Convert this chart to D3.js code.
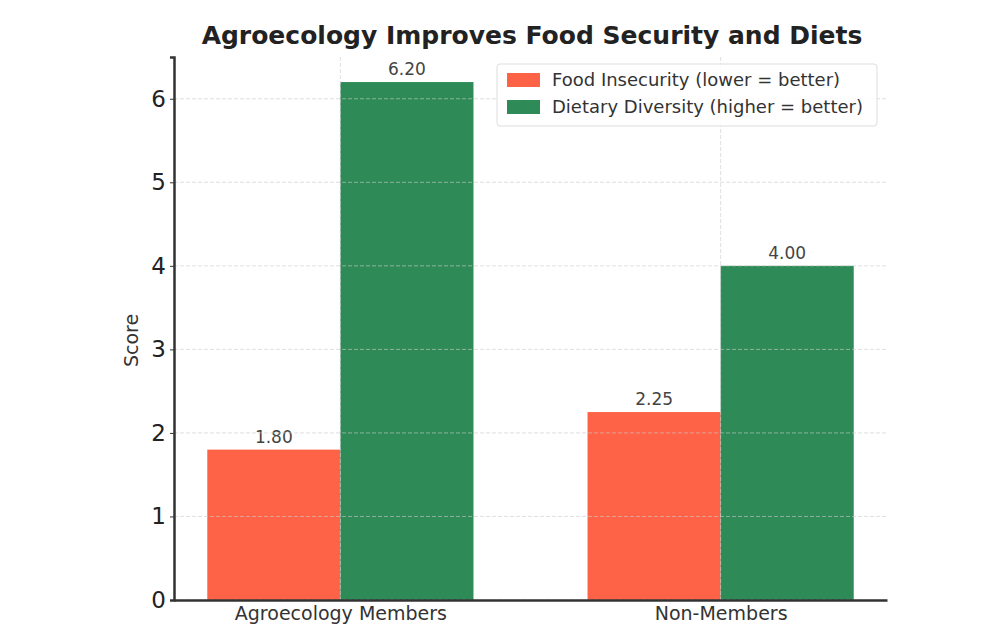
<!DOCTYPE html>
<html>
<head>
<meta charset="utf-8">
<script src="https://cdn.jsdelivr.net/npm/d3@7"></script>
<style>
  body { margin: 0; background: #fff; }
  text { font-family: "DejaVu Sans", sans-serif; }
</style>
</head>
<body>
<div id="chart"></div>
<script>
// data
var groups = ["Agroecology Members", "Non-Members"];
var seriesNames = ["Food Insecurity (lower = better)", "Dietary Diversity (higher = better)"];
var foodInsecurity = [1.80, 2.25];
var dietaryDiversity = [6.20, 4.00];
var yTicks = [0, 1, 2, 3, 4, 5, 6];
var colors = ["#ff6347", "#2e8b57"];

// set the dimensions and margins of the graph
var W = 1000, H = 637;
var margin = { top: 57, right: 113, bottom: 37, left: 174 },
    width = W - margin.left - margin.right,
    height = H - margin.top - margin.bottom;

var svg = d3.select("#chart")
    .append("svg")
    .attr("width", W)
    .attr("height", H);

var g = svg.append("g")
    .attr("transform", "translate(" + margin.left + "," + margin.top + ")");

// x is a linear scale over category index, like matplotlib
var x = d3.scaleLinear()
    .domain([-0.4375, 1.4375])
    .range([0, width]);
var barW = 0.35;

var y = d3.scaleLinear()
    .domain([0, 6.5])
    .range([height, 0]);

var rows = groups.map(function(d, i) {
    return { group: d, i: i, vals: [foodInsecurity[i], dietaryDiversity[i]] };
});

// bars
rows.forEach(function(r) {
    r.vals.forEach(function(v, s) {
        var x0 = r.i + (s === 0 ? -barW : 0);
        g.append("rect")
            .attr("x", x(x0))
            .attr("y", y(v))
            .attr("width", x(x0 + barW) - x(x0))
            .attr("height", height - y(v))
            .attr("fill", colors[s]);
        g.append("text")
            .attr("x", x(x0 + barW / 2))
            .attr("y", y(v) - 7)
            .attr("text-anchor", "middle")
            .style("font-size", "17px")
            .style("fill", "#444")
            .text(v.toFixed(2));
    });
});

// grid (drawn on top, faint)
g.append("g")
    .selectAll("line")
    .data(yTicks)
    .enter()
    .append("line")
    .attr("x1", 0)
    .attr("x2", width)
    .attr("y1", function(d) { return y(d); })
    .attr("y2", function(d) { return y(d); })
    .attr("stroke", "#ccc")
    .attr("stroke-opacity", 0.6)
    .attr("stroke-dasharray", "4,2");
g.append("g")
    .selectAll("line")
    .data(rows)
    .enter()
    .append("line")
    .attr("x1", function(d) { return x(d.i); })
    .attr("x2", function(d) { return x(d.i); })
    .attr("y1", 0)
    .attr("y2", height)
    .attr("stroke", "#ccc")
    .attr("stroke-opacity", 0.6)
    .attr("stroke-dasharray", "4,2");

// Y axis
var yAxis = g.append("g")
    .call(d3.axisLeft(y).tickValues(yTicks).tickFormat(d3.format("d")).tickSize(4).tickPadding(4));
yAxis.select(".domain").attr("stroke", "#333").attr("stroke-width", 2.5);
yAxis.selectAll(".tick line").attr("stroke", "#333");
yAxis.selectAll("text").style("font-size", "23px").style("fill", "#222").attr("font-family", "DejaVu Sans");

// X axis
var xAxis = g.append("g")
    .attr("transform", "translate(0," + height + ")")
    .call(d3.axisBottom(x).tickValues([0, 1]).tickFormat(function(d) { return groups[d]; }).tickSize(0).tickPadding(7));
xAxis.select(".domain").attr("stroke", "#333").attr("stroke-width", 2.5);
xAxis.selectAll("text").style("font-size", "19px").style("fill", "#333").attr("font-family", "DejaVu Sans");

// Y label
svg.append("text")
    .attr("transform", "translate(138," + (margin.top + height / 2 + 12) + ") rotate(-90)")
    .attr("text-anchor", "middle")
    .style("font-size", "19px")
    .style("fill", "#333")
    .text("Score");

// title
svg.append("text")
    .attr("x", 532)
    .attr("y", 44)
    .attr("text-anchor", "middle")
    .style("font-size", "25px")
    .style("font-weight", "bold")
    .style("fill", "#222")
    .text("Agroecology Improves Food Security and Diets");

// legend
var lg = svg.append("g").attr("transform", "translate(497,64)");
lg.append("rect")
    .attr("width", 380)
    .attr("height", 62)
    .attr("fill", "#fff")
    .attr("fill-opacity", 0.85)
    .attr("stroke", "#ddd")
    .attr("rx", 3);
seriesNames.forEach(function(n, i) {
    lg.append("rect")
        .attr("x", 10)
        .attr("y", 9 + i * 27)
        .attr("width", 33)
        .attr("height", 14)
        .attr("fill", colors[i]);
    lg.append("text")
        .attr("x", 55)
        .attr("y", 22 + i * 27)
        .style("font-size", "18px")
        .style("fill", "#333")
        .text(n);
});
</script>
</body>
</html>
